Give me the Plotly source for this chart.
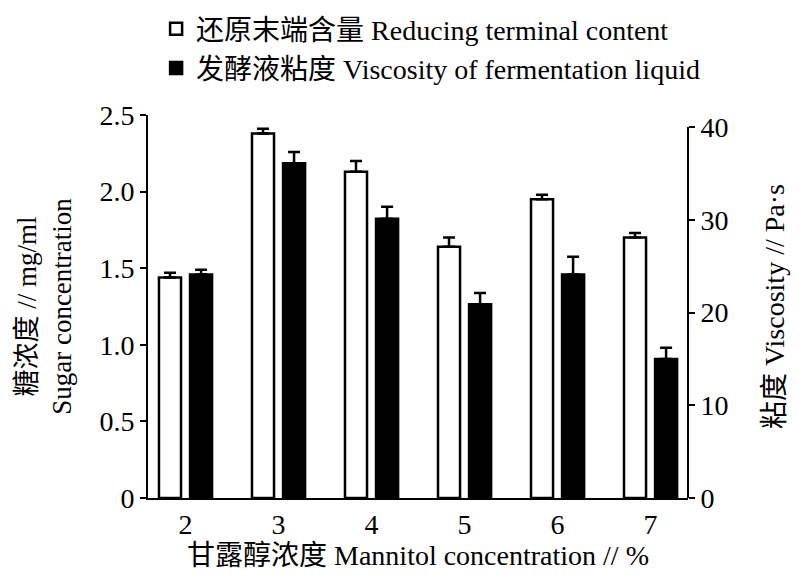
import plotly.graph_objects as go

categories = [2, 3, 4, 5, 6, 7]
reducing_terminal = [1.44, 2.38, 2.13, 1.64, 1.95, 1.70]
reducing_err = [0.03, 0.03, 0.07, 0.06, 0.03, 0.03]
viscosity = [24.1, 36.1, 30.1, 20.9, 24.1, 15.0]
viscosity_err = [0.5, 1.2, 1.3, 1.2, 1.9, 1.2]

left_ticks = [0, 0.5, 1.0, 1.5, 2.0, 2.5]
left_ticktext = ["0", "0.5", "1.0", "1.5", "2.0", "2.5"]
right_ticks = [0, 10, 20, 30, 40]

FONT = "Liberation Serif, Noto Sans CJK SC, serif"

fig = go.Figure()
fig.add_trace(go.Bar(
    x=categories, y=reducing_terminal, name="还原末端含量 Reducing terminal content",
    width=0.237, offset=-0.285,
    marker=dict(color="white", line=dict(color="black", width=2.5)),
    error_y=dict(type="data", array=reducing_err, arrayminus=[0]*6, symmetric=False,
                 color="black", thickness=2.5, width=6),
    yaxis="y",
))
fig.add_trace(go.Bar(
    x=categories, y=viscosity, name="发酵液粘度 Viscosity of fermentation liquid",
    width=0.237, offset=0.049,
    marker=dict(color="black", line=dict(color="black", width=2.5)),
    error_y=dict(type="data", array=viscosity_err, arrayminus=[0]*6, symmetric=False,
                 color="black", thickness=2.5, width=6),
    yaxis="y2",
))

fig.add_shape(type="line", xref="paper", yref="y2", x0=1, x1=1, y0=0, y1=40,
              line=dict(color="black", width=2))

fig.update_layout(
    width=808, height=577,
    margin=dict(l=148, r=120, t=115, b=79, autoexpand=False),
    plot_bgcolor="white", paper_bgcolor="white",
    font=dict(family=FONT, size=28, color="black"),
    showlegend=True,
    legend=dict(x=0.015, xanchor="left", y=1.29, yanchor="top",
                font=dict(size=28), itemwidth=30, tracegroupgap=0,
                bgcolor="rgba(0,0,0,0)"),
    xaxis=dict(range=[1.597, 7.403], tickvals=categories, showline=True,
               linecolor="black", linewidth=2, ticks="", showgrid=False,
               zeroline=False, tickfont=dict(size=28), automargin=False,
               title=dict(text="甘露醇浓度 Mannitol concentration // %",
                          font=dict(size=28), standoff=4)),
    yaxis=dict(range=[0, 2.5], tickvals=left_ticks, ticktext=left_ticktext,
               showline=True, linecolor="black", linewidth=2, ticks="outside",
               ticklen=6, tickwidth=2, tickcolor="black", showgrid=False,
               zeroline=False, tickfont=dict(size=28), automargin=False,
               title=dict(text="糖浓度 // mg/ml<br>Sugar concentration",
                          font=dict(size=27), standoff=20)),
    yaxis2=dict(range=[0, 40 * 383 / 371], tickvals=right_ticks, overlaying="y",
                side="right", showline=False, ticks="outside", ticklen=6,
                tickwidth=2, tickcolor="black", showgrid=False, zeroline=False,
                tickfont=dict(size=28), automargin=False,
                title=dict(text="粘度 Viscosity // Pa·s", font=dict(size=28),
                           standoff=36)),
)

fig.write_html("out.html", config={"displayModeBar": False},
               post_script="document.body.style.margin='0px';")
